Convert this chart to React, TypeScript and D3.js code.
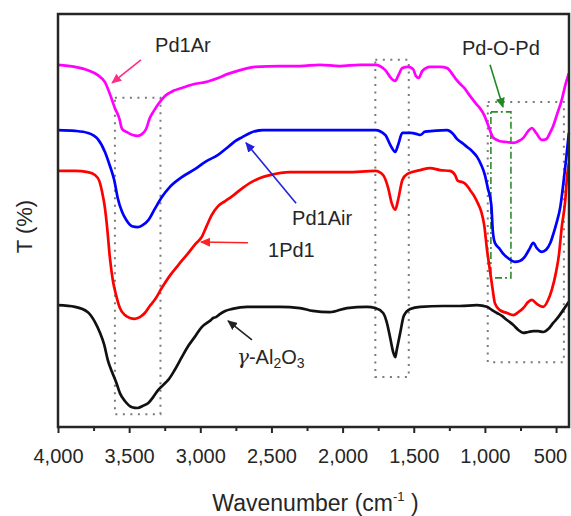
import * as d3 from "d3";
import React, { useEffect, useRef } from "react";

// spectra as [wavenumber (cm-1), T (arbitrary, offset)]
const pd1Ar: [number, number][] = [
  [4000, 87.7], [3880, 87.2], [3790, 86.4], [3720, 85.2], [3670, 83.5], [3635, 80.6], [3600, 77.2],
  [3570, 74.8], [3550, 72.2], [3515, 71.4], [3475, 70.7], [3440, 70.5], [3410, 70.9], [3380, 72.2],
  [3355, 74.8], [3325, 76.6], [3295, 78.2], [3250, 80.1], [3190, 81.4], [3130, 82.1], [3035, 83.1],
  [2965, 83.5], [2875, 84.5], [2805, 85.5], [2720, 86.4], [2615, 87.2], [2440, 87.4], [2300, 87.4],
  [2160, 87.7], [2020, 87.4], [1880, 87.7], [1770, 87.7], [1700, 86.4], [1655, 84.3], [1630, 83.8],
  [1610, 85.0], [1580, 86.9], [1540, 87.2], [1505, 86.7], [1485, 85.0], [1465, 84.5], [1440, 86.2],
  [1385, 87.2], [1315, 87.2], [1265, 86.9], [1230, 85.5], [1205, 84.3], [1175, 83.1], [1145, 82.1],
  [1120, 80.9], [1090, 79.5], [1060, 78.2], [1035, 77.2], [1005, 75.5], [985, 73.8], [965, 71.9],
  [945, 70.2], [915, 69.5], [895, 69.2], [845, 69.0], [800, 68.8], [765, 69.2], [730, 70.0],
  [695, 71.7], [670, 72.4], [640, 71.2], [600, 69.5], [570, 69.7], [540, 71.4], [520, 72.9],
  [495, 75.5], [460, 79.2], [435, 82.8], [410, 85.7],
];

const pd1Air: [number, number][] = [
  [4000, 71.9], [3880, 71.7], [3790, 71.2], [3720, 69.7], [3670, 66.6], [3635, 63.2], [3605, 59.8],
  [3580, 55.4], [3550, 52.1], [3520, 50.1], [3480, 48.6], [3440, 48.4], [3405, 48.9], [3365, 50.1],
  [3320, 52.8], [3270, 55.7], [3215, 58.1], [3130, 60.5], [3035, 62.5], [2965, 64.2], [2875, 65.9],
  [2805, 67.8], [2755, 69.2], [2705, 70.2], [2650, 71.2], [2560, 71.9], [2440, 71.9], [2160, 71.9],
  [1880, 71.9], [1770, 71.9], [1700, 70.7], [1665, 68.3], [1630, 66.6], [1610, 68.3], [1580, 71.2],
  [1525, 71.2], [1475, 70.9], [1455, 70.7], [1420, 71.5], [1265, 71.9], [1230, 71.2], [1195, 69.7],
  [1160, 68.8], [1125, 67.8], [1090, 66.8], [1055, 65.4], [1025, 63.4], [1000, 61.0], [980, 57.9],
  [955, 53.8], [945, 47.7], [930, 44.6], [900, 43.3], [875, 42.1], [830, 40.7], [790, 40.0],
  [755, 40.2], [720, 41.2], [690, 42.9], [660, 44.6], [635, 43.3], [600, 42.4], [570, 42.9],
  [540, 44.6], [515, 47.2], [495, 49.6], [470, 53.3], [450, 58.6], [430, 64.6], [410, 71.2],
];

const onePd1: [number, number][] = [
  [4000, 62.0], [3880, 62.0], [3790, 61.7], [3740, 61.0], [3710, 59.6], [3690, 56.9], [3670, 53.0],
  [3655, 48.4], [3635, 40.9], [3615, 35.6], [3590, 31.7], [3565, 28.8], [3530, 27.1], [3495, 26.4],
  [3460, 26.2], [3425, 26.6], [3390, 27.6], [3355, 29.3], [3320, 30.8], [3270, 33.7], [3215, 36.6],
  [3155, 39.2], [3085, 42.1], [3035, 44.3], [2990, 46.0], [2955, 48.7], [2920, 51.3], [2875, 53.5],
  [2825, 54.7], [2775, 55.9], [2720, 57.4], [2650, 59.1], [2580, 60.3], [2510, 61.0], [2370, 61.7],
  [2210, 61.7], [1970, 61.7], [1770, 62.0], [1715, 61.0], [1680, 57.9], [1655, 54.2], [1630, 52.6],
  [1610, 55.0], [1580, 59.8], [1545, 61.3], [1455, 62.2], [1385, 62.7], [1315, 62.2], [1245, 62.0],
  [1210, 61.0], [1190, 59.6], [1160, 59.3], [1135, 58.8], [1105, 57.4], [1075, 55.9], [1050, 54.2],
  [1025, 52.1], [1005, 48.9], [985, 42.9], [965, 38.0], [945, 33.2], [930, 30.0], [895, 28.3],
  [845, 27.6], [800, 27.1], [765, 27.8], [730, 28.8], [695, 30.3], [670, 30.8], [635, 29.8],
  [590, 29.1], [555, 30.8], [530, 33.2], [500, 37.5], [480, 41.6], [460, 48.4], [435, 55.0],
  [425, 59.8], [410, 63.9],
];

const alumina: [number, number][] = [
  [4000, 29.5], [3880, 29.1], [3790, 27.8], [3740, 25.4], [3705, 22.8], [3675, 19.9], [3650, 16.2],
  [3620, 13.3], [3590, 10.7], [3565, 8.2], [3530, 6.3], [3480, 4.8], [3440, 4.6], [3405, 5.1],
  [3365, 5.8], [3330, 7.3], [3295, 9.0], [3260, 10.2], [3225, 11.4], [3180, 13.8], [3130, 16.9],
  [3085, 19.6], [3035, 22.0], [2990, 24.2], [2945, 25.4], [2925, 25.9], [2910, 26.4], [2890, 26.6],
  [2860, 27.4], [2825, 28.1], [2775, 28.6], [2670, 29.1], [2440, 29.1], [2300, 28.8], [2210, 28.1],
  [2090, 27.8], [1970, 28.8], [1830, 29.1], [1770, 28.8], [1715, 27.6], [1690, 25.4], [1665, 21.5],
  [1645, 18.2], [1630, 16.9], [1620, 18.6], [1595, 22.8], [1570, 26.9], [1525, 28.6], [1455, 29.1],
  [1295, 29.3], [1175, 29.3], [1055, 29.5], [985, 29.1], [950, 28.3], [915, 27.6], [880, 26.9],
  [845, 25.9], [800, 24.7], [765, 23.5], [730, 22.8], [695, 23.0], [660, 23.2], [625, 23.2],
  [590, 23.0], [555, 23.7], [520, 25.2], [485, 26.6], [450, 28.3], [430, 29.3], [410, 30.3],
];

const seriesNames = ["Pd1Ar", "Pd1Air", "1Pd1", "γ-Al2O3"];
const seriesData = [pd1Ar, pd1Air, onePd1, alumina];
const seriesColors = ["#ff00ff", "#0000ff", "#ff0000", "#111111"];

const majorTicks = [4000, 3500, 3000, 2500, 2000, 1500, 1000, 500];
const minorTicks = [3750, 3250, 2750, 2250, 1750, 1250, 750];

// highlighted regions: [wavenumber from, wavenumber to, T low, T high]
const dottedBoxes: [number, number, number, number][] = [
  [3600, 3280, 3.1, 79.7],
  [1770, 1535, 12.1, 88.9],
  [980, 445, 15.7, 78.7],
];
const pdOPdBox: [number, number, number, number] = [958, 817, 36.1, 76.3];

// annotation arrows: [w from, T from, w to, T to]
const arrowLines: [number, number, number, number][] = [
  [3417, 88.9, 3620, 83.3],
  [2327, 54.2, 2679, 68.8],
  [2665, 44.6, 2995, 44.8],
  [2637, 21.1, 2805, 25.7],
  [964, 87.7, 873, 77.5],
];
const arrowColors = ["#ff2d8a", "#2222dd", "#ff2222", "#222222", "#1f8a1f"];

// label anchors: [wavenumber, T]
const labelAnchors: [number, number][] = [
  [3318, 90.8],
  [2355, 48.9],
  [2524, 41.2],
  [2742, 15.3],
];
const pdOPdAnchor: [number, number] = [1161, 90.1];

const width = 571;
const height = 516;
const margin = { left: 58, right: 2, top: 14, bottom: 89 };
const innerW = width - margin.left - margin.right;
const innerH = height - margin.top - margin.bottom;
const font = "'Liberation Sans', Arial, sans-serif";
const textColor = "#262626";

export default function App() {
  const majorRef = useRef<SVGGElement>(null);
  const minorRef = useRef<SVGGElement>(null);

  const x = d3.scaleLinear().domain([4000, 409]).range([0, innerW]);
  const y = d3.scaleLinear().domain([0, 100]).range([innerH, 0]);

  const line = d3
    .line<[number, number]>()
    .x((d) => x(d[0]))
    .y((d) => y(d[1]))
    .curve(d3.curveMonotoneX);

  useEffect(() => {
    const major = d3
      .axisBottom(x)
      .tickValues(majorTicks)
      .tickFormat((d) => d3.format(",")(d as number))
      .tickSize(6)
      .tickPadding(16);
    const minor = d3.axisBottom(x).tickValues(minorTicks).tickFormat(() => "").tickSize(4);

    const gMajor = d3.select(majorRef.current).call(major);
    const gMinor = d3.select(minorRef.current).call(minor);
    [gMajor, gMinor].forEach((g) => {
      g.select(".domain").remove();
      g.selectAll(".tick line").attr("stroke", "#262626").attr("stroke-width", 2);
    });
    gMajor
      .selectAll<SVGTextElement, number>(".tick text")
      .attr("fill", textColor)
      .style("font-family", font)
      .style("font-size", "20px")
      .attr("dx", (d) => (d === 500 ? -6 : 0));
  }, []);

  const boxRect = (b: [number, number, number, number]) => ({
    x: x(b[0]),
    y: y(b[3]),
    width: x(b[1]) - x(b[0]),
    height: y(b[2]) - y(b[3]),
  });

  return (
    <svg width={width} height={height} style={{ display: "block", background: "#fff" }}>
      <style>{`body { margin: 0; }`}</style>
      <defs>
        {arrowColors.map((c, i) => (
          <marker
            key={i}
            id={`arrow${i}`}
            markerUnits="userSpaceOnUse"
            markerWidth={11}
            markerHeight={9}
            refX={9}
            refY={4.5}
            orient="auto"
          >
            <path d="M0,0 L10,4.5 L0,9 Z" fill={c} />
          </marker>
        ))}
      </defs>
      <g transform={`translate(${margin.left},${margin.top})`}>
        {dottedBoxes.map((b, i) => (
          <rect
            key={i}
            {...boxRect(b)}
            fill="none"
            stroke="#7a7a7a"
            strokeWidth={2}
            strokeDasharray="2,5.5"
          />
        ))}
        <rect
          {...boxRect(pdOPdBox)}
          fill="none"
          stroke="#2e8b2e"
          strokeWidth={1.6}
          strokeDasharray="7,3,2,3"
        />

        {seriesData.map((s, i) => (
          <path
            key={seriesNames[i]}
            d={line(s) ?? ""}
            fill="none"
            stroke={seriesColors[i]}
            strokeWidth={2.7}
            strokeLinejoin="round"
          />
        ))}

        {arrowLines.map((a, i) => (
          <line
            key={i}
            x1={x(a[0])}
            y1={y(a[1])}
            x2={x(a[2])}
            y2={y(a[3])}
            stroke={arrowColors[i]}
            strokeWidth={1.6}
            markerEnd={`url(#arrow${i})`}
          />
        ))}

        <g fill={textColor} style={{ fontFamily: font, fontSize: 20 }}>
          <text x={x(labelAnchors[0][0])} y={y(labelAnchors[0][1])}>{seriesNames[0]}</text>
          <text x={x(labelAnchors[1][0])} y={y(labelAnchors[1][1])}>{seriesNames[1]}</text>
          <text x={x(labelAnchors[2][0])} y={y(labelAnchors[2][1])}>{seriesNames[2]}</text>
          <text x={x(labelAnchors[3][0])} y={y(labelAnchors[3][1])}>
            <tspan style={{ fontFamily: "'DejaVu Serif', serif", fontStyle: "italic" }}>γ</tspan>
            <tspan>-Al</tspan>
            <tspan dy={4} style={{ fontSize: 14 }}>2</tspan>
            <tspan dy={-4}>O</tspan>
            <tspan dy={4} style={{ fontSize: 14 }}>3</tspan>
          </text>
          <text x={x(pdOPdAnchor[0])} y={y(pdOPdAnchor[1])}>Pd-O-Pd</text>
        </g>

        <rect x={0} y={0} width={innerW} height={innerH} fill="none" stroke="#262626" strokeWidth={2.5} />
        <g ref={minorRef} transform={`translate(0,${innerH})`} />
        <g ref={majorRef} transform={`translate(0,${innerH})`} />

        <text
          x={innerW / 2 + 2}
          y={innerH + 84}
          textAnchor="middle"
          fill={textColor}
          style={{ fontFamily: font, fontSize: 23 }}
        >
          Wavenumber (cm
          <tspan dy={-10} style={{ fontSize: 13 }}>-1</tspan>
          <tspan dy={10}> )</tspan>
        </text>
        <text
          transform={`translate(${-26},${innerH / 2 + 6}) rotate(-90)`}
          textAnchor="middle"
          fill={textColor}
          style={{ fontFamily: font, fontSize: 22 }}
        >
          T (%)
        </text>
      </g>
    </svg>
  );
}
